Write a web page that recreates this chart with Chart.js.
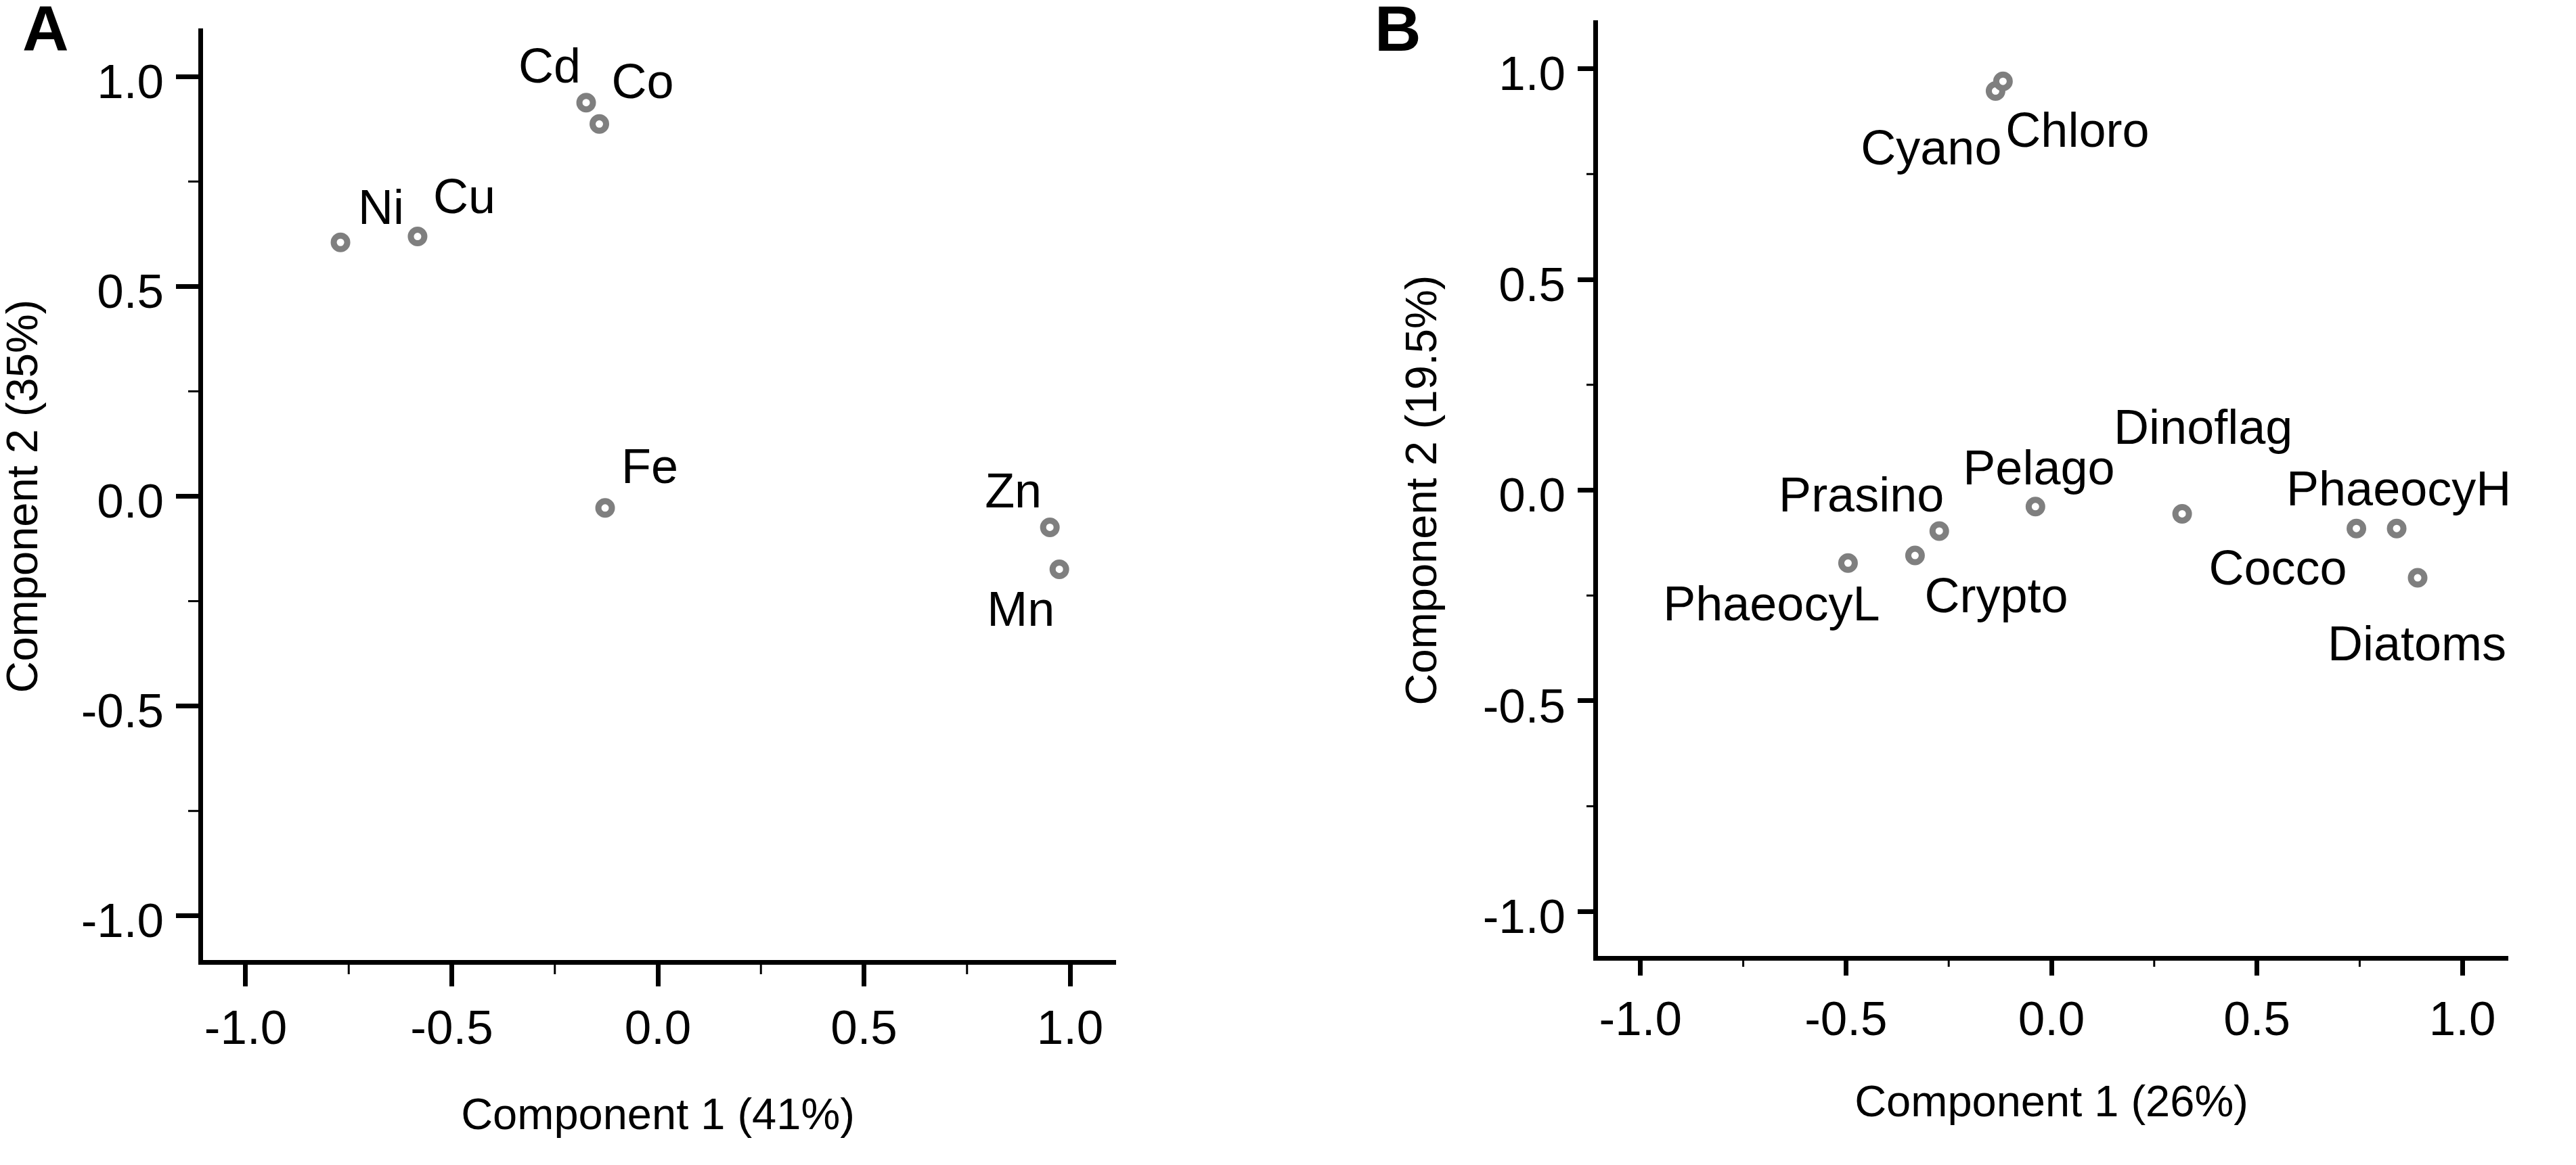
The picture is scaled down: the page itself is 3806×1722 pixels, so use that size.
<!DOCTYPE html>
<html>
<head>
<meta charset="utf-8">
<title>PCA loadings</title>
<script src="https://cdn.jsdelivr.net/npm/chart.js@4.4.1/dist/chart.umd.min.js"></script>
<style>
  html, body { margin: 0; padding: 0; background: #fff; }
  #wrap { position: relative; width: 3806px; height: 1722px; }
  canvas { position: absolute; top: 0; }
  #chartA { left: 0; }
  #chartB { left: 1900px; }
</style>
</head>
<body>
<div id="wrap">
  <canvas id="chartA" width="1900" height="1722"></canvas>
  <canvas id="chartB" width="1906" height="1722"></canvas>
</div>
<script>
// panel A: trace metals
const metalNames = ['Cd', 'Co', 'Ni', 'Cu', 'Fe', 'Zn', 'Mn'];
const metalPC1 = [-0.174, -0.142, -0.770, -0.583, -0.128, 0.951, 0.974];
const metalPC2 = [0.938, 0.887, 0.605, 0.619, -0.028, -0.074, -0.174];

// panel B: phytoplankton groups
const taxaNames = ['Cyano', 'Chloro', 'Prasino', 'Crypto', 'PhaeocyL', 'Pelago', 'Dinoflag', 'Cocco', 'PhaeocyH', 'Diatoms'];
const taxaPC1 = [-0.136, -0.118, -0.273, -0.332, -0.495, -0.039, 0.318, 0.742, 0.840, 0.891];
const taxaPC2 = [0.947, 0.970, -0.097, -0.155, -0.173, -0.039, -0.056, -0.091, -0.091, -0.208];

const tickValues = [-1.0, -0.5, 0.0, 0.5, 1.0];
const minorTickValues = [-0.75, -0.25, 0.25, 0.75];

// where each label sits relative to its point: [align, dx, dy] in px
const metalLabelPos = [
    ['right', -8, -30], ['left', 18, -38], ['left', 26, -27], ['left', 23, -35],
    ['left', 24, -37], ['right', -12, -29], ['right', -7, 84]
];
const taxaLabelPos = [
    ['right', 9, 108], ['left', 4, 97], ['right', 7, -29], ['left', 14, 84],
    ['right', 47, 85], ['left', -107, -33], ['left', -101, -103], ['right', -14, 83],
    ['left', -163, -34], ['right', 131, 122]
];

const FONT = "'Liberation Sans', Arial, sans-serif";

function extras(o) {
    return {
        id: 'extras',
        afterDraw(chart) {
            const { ctx, chartArea, scales: { x, y } } = chart;
            ctx.save();
            // minor ticks
            ctx.strokeStyle = '#000';
            ctx.lineWidth = 3;
            minorTickValues.forEach(v => {
                const px = x.getPixelForValue(v);
                ctx.beginPath();
                ctx.moveTo(px, chartArea.bottom);
                ctx.lineTo(px, chartArea.bottom + o.minorLen);
                ctx.stroke();
                const py = y.getPixelForValue(v);
                ctx.beginPath();
                ctx.moveTo(chartArea.left - o.minorLen, py);
                ctx.lineTo(chartArea.left, py);
                ctx.stroke();
            });
            // point labels
            ctx.fillStyle = '#000';
            ctx.font = '72px ' + FONT;
            ctx.textBaseline = 'alphabetic';
            chart.getDatasetMeta(0).data.forEach((pt, i) => {
                const [align, dx, dy] = o.labelPos[i];
                ctx.textAlign = align;
                ctx.fillText(o.names[i], pt.x + dx, pt.y + dy);
            });
            // panel letter
            ctx.font = 'bold 95px ' + FONT;
            ctx.textAlign = 'left';
            ctx.fillText(o.letter, o.letterX, 75);
            ctx.restore();
        }
    };
}

function makeChart(id, o) {
    return new Chart(document.getElementById(id), {
        type: 'scatter',
        data: {
            datasets: [{
                data: o.xs.map((v, i) => ({ x: v, y: o.ys[i] })),
                pointRadius: 10,
                pointHoverRadius: 10,
                pointBorderWidth: 9,
                pointBorderColor: '#7f7f7f',
                pointBackgroundColor: '#fff'
            }]
        },
        options: {
            responsive: false,
            animation: false,
            events: [],
            devicePixelRatio: 1,
            layout: { autoPadding: false, padding: { left: 0, top: o.top, right: o.right, bottom: 0 } },
            plugins: { legend: { display: false }, tooltip: { enabled: false } },
            scales: {
                x: {
                    type: 'linear', min: -1.11, max: 1.11,
                    afterBuildTicks: s => { s.ticks = tickValues.map(v => ({ value: v })); },
                    afterFit: s => { s.height = o.xAxisHeight; s.paddingLeft = 0; s.paddingRight = 0; },
                    grid: { drawOnChartArea: false, drawTicks: true, tickLength: o.tickLen, tickWidth: 7, tickColor: '#000' },
                    border: { display: true, width: 7, color: '#000' },
                    ticks: {
                        color: '#000', padding: o.xPad, maxRotation: 0, autoSkip: false,
                        font: { family: FONT, size: 71, lineHeight: 1 },
                        callback: v => v.toFixed(1)
                    },
                    title: {
                        display: true, text: o.xTitle, color: '#000',
                        font: { family: FONT, size: 65, lineHeight: 1 },
                        padding: { top: 0, bottom: o.xTitlePad }
                    }
                },
                y: {
                    type: 'linear', min: -1.11, max: 1.11,
                    afterBuildTicks: s => { s.ticks = tickValues.map(v => ({ value: v })); },
                    afterFit: s => { s.width = o.yAxisWidth; s.paddingTop = 0; s.paddingBottom = 0; },
                    grid: { drawOnChartArea: false, drawTicks: true, tickLength: o.tickLen, tickWidth: 7, tickColor: '#000' },
                    border: { display: true, width: 7, color: '#000' },
                    ticks: {
                        color: '#000', padding: o.yPad, labelOffset: 12, autoSkip: false,
                        font: { family: FONT, size: 71, lineHeight: 1 },
                        callback: v => v.toFixed(1)
                    },
                    title: {
                        display: true, text: o.yTitle, color: '#000',
                        font: { family: FONT, size: 65, lineHeight: 1 },
                        padding: { top: o.yTitlePad, bottom: 0 }
                    }
                }
            }
        },
        plugins: [extras(o)]
    });
}

makeChart('chartA', {
    xs: metalPC1, ys: metalPC2, names: metalNames, labelPos: metalLabelPos,
    letter: 'A', letterX: 33,
    top: 45, right: 252, xAxisHeight: 300, yAxisWidth: 296,
    tickLen: 36, minorLen: 18, xPad: 30, yPad: 18,
    xTitle: 'Component 1 (41%)', yTitle: 'Component 2 (35%)',
    xTitlePad: 38, yTitlePad: 5
});

makeChart('chartB', {
    xs: taxaPC1, ys: taxaPC2, names: taxaNames, labelPos: taxaLabelPos,
    letter: 'B', letterX: 131,
    top: 33, right: 101, xAxisHeight: 306, yAxisWidth: 457,
    tickLen: 26, minorLen: 13, xPad: 33, yPad: 18,
    xTitle: 'Component 1 (26%)', yTitle: 'Component 2 (19.5%)',
    xTitlePad: 57, yTitlePad: 172
});
</script>
</body>
</html>
